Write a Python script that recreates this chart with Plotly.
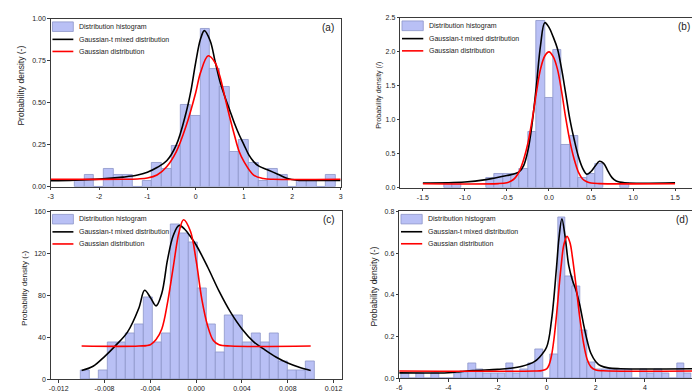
import plotly.graph_objects as go

# ---------------- data ----------------
# (a)
a_centers = [-2.4, -2.2, -2.0, -1.8, -1.6, -1.4, -1.2, -1.0, -0.8, -0.6, -0.4, -0.2, 0.0, 0.2,
             0.4, 0.6, 0.8, 1.0, 1.2, 1.4, 1.6, 1.8, 2.0, 2.2, 2.4, 2.6, 2.8]
a_density = [0.035, 0.07, 0, 0.105, 0.07, 0.07, 0, 0.035, 0.14, 0.105, 0.245, 0.49, 0.42, 0.94,
             0.70, 0.595, 0.21, 0.28, 0.14, 0.035, 0.105, 0.07, 0, 0.035, 0.035, 0, 0.07]
a_mix_x = [-3, -2.5, -2, -1.5, -1.2, -1.0, -0.8, -0.6, -0.4, -0.2, -0.1, 0.0, 0.1, 0.18, 0.3, 0.4,
           0.5, 0.6, 0.7, 0.8, 0.9, 1.0, 1.1, 1.2, 1.3, 1.5, 1.7, 1.9, 2.1, 2.5, 3.0]
a_mix_y = [0.037, 0.04, 0.046, 0.058, 0.07, 0.087, 0.115, 0.155, 0.25, 0.44, 0.57, 0.74, 0.88, 0.93,
           0.87, 0.75, 0.63, 0.54, 0.46, 0.38, 0.31, 0.25, 0.19, 0.15, 0.125, 0.10, 0.075, 0.05,
           0.04, 0.038, 0.038]
a_gauss_x = [-3, -1.5, -1.2, -1.0, -0.8, -0.6, -0.4, -0.2, 0.0, 0.1, 0.26, 0.4, 0.5, 0.6, 0.7, 0.8,
             0.9, 1.0, 1.2, 1.4, 1.6, 3.0]
a_gauss_y = [0.045, 0.045, 0.047, 0.052, 0.07, 0.12, 0.21, 0.36, 0.56, 0.68, 0.78, 0.74, 0.66, 0.54,
             0.42, 0.31, 0.21, 0.15, 0.07, 0.05, 0.045, 0.045]

# (b)
b_centers = [-1.2, -1.1, -0.7, -0.6, -0.5, -0.4, -0.3, -0.2, -0.1, 0.0, 0.1, 0.2, 0.3, 0.4, 0.5, 0.6, 0.9]
b_density = [0.07, 0.07, 0.14, 0.21, 0.21, 0.21, 0.28, 0.83, 2.45, 1.33, 2.03, 0.63, 0.76, 0.14, 0.21, 0.35, 0.07]
b_mix_x = [-1.5, -1.0, -0.75, -0.5, -0.4, -0.35, -0.3, -0.25, -0.2, -0.15, -0.1, -0.05, 0.0, 0.05,
           0.1, 0.15, 0.2, 0.25, 0.3, 0.35, 0.4, 0.45, 0.5, 0.55, 0.6, 0.65, 0.7, 0.75, 0.8, 0.9, 1.5]
b_mix_y = [0.07, 0.085, 0.12, 0.18, 0.21, 0.24, 0.33, 0.55, 0.95, 1.5, 2.1, 2.43, 2.36, 2.22, 2.05,
           1.75, 1.38, 1.0, 0.71, 0.46, 0.29, 0.2, 0.24, 0.32, 0.39, 0.36, 0.25, 0.15, 0.1, 0.075, 0.075]
b_gauss_x = [-1.5, -0.6, -0.5, -0.45, -0.4, -0.35, -0.3, -0.25, -0.2, -0.15, -0.1, -0.05, 0.0, 0.05,
             0.1, 0.15, 0.2, 0.25, 0.3, 0.35, 0.4, 0.45, 0.5, 0.6, 1.5]
b_gauss_y = [0.06, 0.062, 0.075, 0.1, 0.15, 0.25, 0.42, 0.66, 1.0, 1.4, 1.75, 1.94, 2.0, 1.93, 1.75,
             1.42, 1.02, 0.68, 0.42, 0.23, 0.13, 0.09, 0.07, 0.062, 0.06]

# (c)
c_centers = [-0.00967, -0.00889, -0.00810, -0.00732, -0.00654, -0.00575, -0.00497, -0.00418,
             -0.00340, -0.00262, -0.00183, -0.00105, -0.00026, 0.00052, 0.00130, 0.00209, 0.00287,
             0.00366, 0.00444, 0.00522, 0.00601, 0.00679, 0.00758, 0.00836, 0.00914, 0.00993]
c_density = [8.7, 0, 8.7, 34.8, 34.8, 43.5, 52.2, 78.3, 34.8, 43.5, 147.9, 139.2, 130.5, 87.0, 52.2,
             26.1, 60.9, 60.9, 34.8, 43.5, 34.8, 43.5, 17.4, 8.7, 8.7, 17.4]
c_mix_x = [-0.010, -0.009, -0.008, -0.007, -0.006, -0.005, -0.0045, -0.004, -0.0035, -0.003, -0.0025,
           -0.002, -0.0015, -0.001, -0.0005, 0.0, 0.001, 0.002, 0.003, 0.004, 0.005, 0.006, 0.007,
           0.008, 0.009, 0.010]
c_mix_y = [8.4, 12.4, 21.7, 32.6, 45, 68, 84.8, 78, 70, 82, 114, 137, 146.6, 143, 136, 128, 107, 84,
           64, 48, 36, 28, 21, 15.5, 11.5, 8.4]
c_gauss_x = [-0.010, -0.005, -0.004, -0.0035, -0.003, -0.0025, -0.002, -0.0015, -0.0011, -0.0005,
             0.0, 0.0005, 0.001, 0.0015, 0.002, 0.003, 0.010]
c_gauss_y = [31.7, 31.7, 33, 38, 48, 73, 107, 140, 152, 141, 113, 76, 51, 37, 33, 31.7, 31.7]

# (d)
d_centers = [-5.75, -5.45, -5.14, -4.84, -4.54, -4.24, -3.93, -3.63, -3.33, -3.03, -2.72, -2.42,
             -2.12, -1.82, -1.51, -1.21, -0.91, -0.60, -0.30, 0.00, 0.30, 0.61, 0.91, 1.21, 1.51,
             1.82, 2.12, 2.42, 2.72, 3.03, 3.33, 3.63, 3.94, 4.24, 4.54, 4.84, 5.15, 5.45, 5.75]
d_density = [0.023, 0, 0.023, 0, 0.023, 0, 0, 0.023, 0.03, 0.07, 0.045, 0.023, 0.023, 0.023, 0.07,
             0.023, 0.045, 0.07, 0.14, 0, 0.115, 0.77, 0.49, 0.443, 0.23, 0.075, 0.045, 0.045, 0.045,
             0.045, 0.045, 0, 0.045, 0.023, 0.045, 0.023, 0, 0.07, 0.023]
d_mix_x = [-6, -4, -3.5, -3, -2, -1.5, -1, -0.5, -0.3, 0, 0.2, 0.4, 0.5, 0.62, 0.75, 0.9, 1.05, 1.2,
           1.35, 1.5, 1.65, 1.8, 2.0, 2.2, 2.5, 3.0, 6.0]
d_mix_y = [0.026, 0.027, 0.032, 0.037, 0.043, 0.048, 0.058, 0.08, 0.1, 0.15, 0.28, 0.53, 0.67, 0.765,
           0.68, 0.54, 0.47, 0.42, 0.35, 0.26, 0.18, 0.12, 0.08, 0.06, 0.05, 0.046, 0.046]
d_gauss_x = [-6, -0.5, -0.2, 0.0, 0.1, 0.2, 0.3, 0.4, 0.5, 0.6, 0.7, 0.83, 0.95, 1.05, 1.2, 1.35, 1.5,
             1.65, 1.8, 2.0, 2.3, 6.0]
d_gauss_y = [0.035, 0.035, 0.037, 0.045, 0.065, 0.11, 0.19, 0.3, 0.43, 0.55, 0.64, 0.68, 0.65, 0.58,
             0.44, 0.29, 0.17, 0.09, 0.055, 0.04, 0.036, 0.035]

FONT = "Liberation Sans, Arial, sans-serif"
BAR_FILL = "#b9c0f5"
BAR_EDGE = "#8d95c9"
AXIS_COL = "#3a3a3a"

# per panel: data, bin width, axis ranges, ticks, domains
panels = [
    dict(name="a", centers=a_centers, dens=a_density, width=0.2,
         mx=a_mix_x, my=a_mix_y, gx=a_gauss_x, gy=a_gauss_y,
         xr=[-3, 3], yr=[0, 1.0],
         xt=[-3, -2, -1, 0, 1, 2, 3], xtt=["-3", "-2", "-1", "0", "1", "2", "3"],
         yt=[0, 0.25, 0.5, 0.75, 1.0], ytt=["0.00", "0.25", "0.50", "0.75", "1.00"],
         xd=[40 / 700, 332 / 700], yd=[1 - 178 / 392, 1 - 7 / 392],
         ytitle="Probability density (-)", ts=8.5, tx=10, ty=75),
    dict(name="b", centers=b_centers, dens=b_density, width=0.1,
         mx=b_mix_x, my=b_mix_y, gx=b_gauss_x, gy=b_gauss_y,
         xr=[-1.77, 1.75], yr=[0, 2.5],
         xt=[-1.5, -1.0, -0.5, 0, 0.5, 1.0, 1.5],
         xtt=["-1.5", "-1.0", "-0.5", "0.0", "0.5", "1.0", "1.5"],
         yt=[0, 0.5, 1.0, 1.5, 2.0, 2.5], ytt=["0.0", "0.5", "1.0", "1.5", "2.0", "2.5"],
         xd=[392 / 700, 690 / 700], yd=[1 - 179 / 392, 1 - 6 / 392],
         ytitle="Probability density (/)", ts=7.2, tx=370, ty=85),
    dict(name="c", centers=c_centers, dens=c_density, width=0.000784,
         mx=c_mix_x, my=c_mix_y, gx=c_gauss_x, gy=c_gauss_y,
         xr=[-0.0127, 0.0127], yr=[0, 160],
         xt=[-0.012, -0.008, -0.004, 0, 0.004, 0.008, 0.012],
         xtt=["-0.012", "-0.008", "-0.004", "0.000", "0.004", "0.008", "0.012"],
         yt=[0, 40, 80, 120, 160], ytt=["0", "40", "80", "120", "160"],
         xd=[40 / 700, 333 / 700], yd=[1 - 374 / 392, 1 - 203 / 392],
         ytitle="Probability density (-)", ts=8, tx=14, ty=281),
    dict(name="d", centers=d_centers, dens=d_density, width=0.3026,
         mx=d_mix_x, my=d_mix_y, gx=d_gauss_x, gy=d_gauss_y,
         xr=[-6, 6], yr=[0, 0.8],
         xt=[-6, -4, -2, 0, 2, 4, 6], xtt=["-6", "-4", "-2", "0", "2", "4", "6"],
         yt=[0, 0.2, 0.4, 0.6, 0.8], ytt=["0.0", "0.2", "0.4", "0.6", "0.8"],
         xd=[391 / 700, 688 / 700], yd=[1 - 373 / 392, 1 - 203 / 392],
         ytitle="Probability density (-)", ts=8.5, tx=366, ty=279),
]

fig = go.Figure()
shapes = []
annotations = []

for i, p in enumerate(panels):
    sfx = "" if i == 0 else str(i + 1)
    xa, ya = "x" + sfx, "y" + sfx

    # histogram bars
    fig.add_trace(go.Bar(
        x=p["centers"], y=p["dens"], width=p["width"],
        marker=dict(color=BAR_FILL, line=dict(color=BAR_EDGE, width=0.8)),
        xaxis=xa, yaxis=ya, showlegend=False,
    ))
    # Gaussian-t mixed (black)
    fig.add_trace(go.Scatter(
        x=p["mx"], y=p["my"], mode="lines",
        line=dict(color="black", width=1.6, shape="spline", smoothing=1.0),
        xaxis=xa, yaxis=ya, showlegend=False,
    ))
    # Gaussian (red)
    fig.add_trace(go.Scatter(
        x=p["gx"], y=p["gy"], mode="lines",
        line=dict(color="#ff0000", width=1.6, shape="spline", smoothing=1.0),
        xaxis=xa, yaxis=ya, showlegend=False,
    ))

    axis_common = dict(
        showline=True, linecolor=AXIS_COL, linewidth=1, mirror=True,
        ticks="outside", ticklen=2.5, tickwidth=1, tickcolor=AXIS_COL,
        showgrid=False, zeroline=False,
        tickfont=dict(family=FONT, size=7, color="#222"),
    )
    fig.layout["xaxis" + sfx] = dict(
        axis_common, domain=p["xd"], range=p["xr"], anchor=ya,
        tickvals=p["xt"], ticktext=p["xtt"],
    )
    fig.layout["yaxis" + sfx] = dict(
        axis_common, domain=p["yd"], range=p["yr"], anchor=xa,
        tickvals=p["yt"], ticktext=p["ytt"],
    )

    # legend drawn inside the panel, top-left
    xr_ = xa + " domain"
    yr_ = ya + " domain"
    shapes.append(dict(type="rect", xref=xr_, yref=yr_, x0=0.006, x1=0.078, y0=0.925, y1=0.982,
                       fillcolor=BAR_FILL, line=dict(color=BAR_EDGE, width=0.8)))
    shapes.append(dict(type="line", xref=xr_, yref=yr_, x0=0.006, x1=0.078, y0=0.878, y1=0.878,
                       line=dict(color="black", width=1.6)))
    shapes.append(dict(type="line", xref=xr_, yref=yr_, x0=0.006, x1=0.078, y0=0.806, y1=0.806,
                       line=dict(color="#ff0000", width=1.6)))
    for txt, yy in [("Distribution histogram", 0.953), ("Gaussian-t mixed distribution", 0.878),
                    ("Gaussian distribution", 0.806)]:
        annotations.append(dict(text=txt, xref=xr_, yref=yr_, x=0.092, y=yy, xanchor="left",
                                yanchor="middle", showarrow=False,
                                font=dict(family=FONT, size=7, color="#222")))
    annotations.append(dict(text="(" + p["name"] + ")", xref=xr_, yref=yr_, x=0.985, y=0.95,
                            xanchor="right", yanchor="middle", showarrow=False,
                            font=dict(family=FONT, size=10, color="#222")))
    # y axis title
    annotations.append(dict(text=p["ytitle"], xref="paper", yref="paper", x=p["tx"] / 700,
                            y=1 - p["ty"] / 392, xanchor="center", yanchor="middle",
                            textangle=-90, showarrow=False,
                            font=dict(family=FONT, size=p["ts"], color="#222")))

fig.update_layout(
    width=700, height=392,
    margin=dict(l=0, r=0, t=0, b=0),
    paper_bgcolor="white", plot_bgcolor="white",
    bargap=0, barmode="overlay",
    shapes=shapes, annotations=annotations,
    font=dict(family=FONT),
)

fig.write_html("out.html")
